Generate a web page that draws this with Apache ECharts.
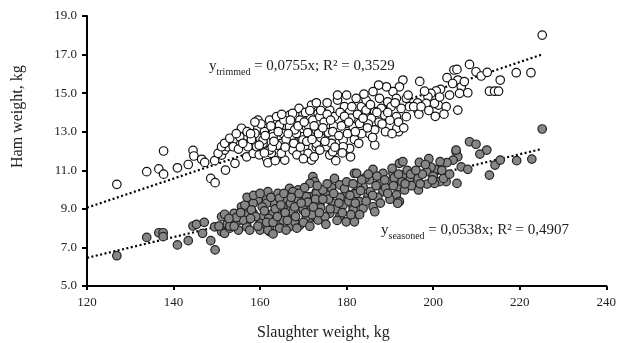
<!DOCTYPE html>
<html>
<head>
<meta charset="utf-8">
<script src="https://cdn.jsdelivr.net/npm/echarts@6/dist/echarts.min.js"></script>
<style>
  html, body { margin: 0; padding: 0; background: #fff; }
  #chart { width: 619px; height: 343px; }
</style>
</head>
<body>
<div id="chart"></div>
<script>
// axis ticks
const xTicks = [120, 140, 160, 180, 200, 220, 240];
const yTicks = [5, 7, 9, 11, 13, 15, 17, 19];

// [slaughter weight kg, ham weight kg]
const trimmedPoints = [
  [126.9, 10.27], [133.8, 10.93], [136.6, 11.07], [137.7, 10.8], [137.7, 12.0],
  [140.9, 11.13], [143.4, 11.3], [144.5, 12.03], [144.7, 11.74], [146.5, 11.57],
  [147.2, 11.41], [148.6, 10.58], [149.6, 10.36], [149.5, 11.5], [152.0, 11.01],
  [151.1, 11.79], [151.8, 12.05], [152.5, 12.22], [153.8, 12.57], [154.2, 11.36],
  [156.1, 12.66], [156.9, 11.7], [158.4, 11.88], [158.8, 12.31], [160.0, 12.66],
  [159.5, 13.18], [160.7, 12.14], [161.5, 11.62], [161.8, 11.39], [162.6, 11.88],
  [162.2, 13.09], [163.8, 13.43], [150.3, 11.88], [151.1, 12.22], [151.8, 12.4],
  [153.0, 12.66], [153.8, 12.22], [155.3, 12.74], [155.7, 13.18], [157.2, 12.22],
  [158.8, 12.91], [159.5, 13.6], [160.7, 12.4], [161.5, 13.18], [162.2, 13.6],
  [163.0, 12.91], [163.8, 13.78], [164.9, 12.4], [165.7, 11.53], [166.1, 13.26],
  [166.8, 13.86], [167.2, 12.74], [168.0, 12.05], [168.4, 13.43], [169.0, 14.21],
  [169.5, 12.74], [169.9, 13.86], [170.3, 12.22], [170.7, 13.26], [171.9, 11.53],
  [172.2, 14.3], [172.6, 12.91], [173.0, 12.22], [171.9, 14.38], [173.4, 13.95],
  [176.1, 14.12], [177.9, 14.64], [179.5, 14.3], [180.7, 14.04], [182.2, 14.73],
  [183.4, 14.3], [184.5, 13.78], [178.0, 13.6], [179.9, 13.43], [181.5, 13.26],
  [183.0, 13.43], [175.3, 13.26], [173.0, 13.09], [171.1, 13.35], [176.8, 12.74],
  [179.2, 12.57], [180.7, 12.14], [175.3, 12.22], [173.0, 12.4], [169.9, 12.57],
  [168.4, 12.91], [166.8, 13.26], [165.3, 12.91], [163.0, 12.74], [160.7, 12.57],
  [159.2, 12.22], [162.2, 12.05], [164.9, 11.88], [167.6, 12.05], [171.1, 11.88],
  [173.8, 12.05], [178.4, 12.05], [176.1, 11.79], [172.2, 13.6], [169.2, 13.6],
  [164.5, 13.35], [173.8, 13.78], [177.2, 13.78], [225.2, 18.01], [208.4, 16.49],
  [209.9, 16.11], [211.1, 15.89], [212.5, 16.08], [219.2, 16.06], [222.6, 16.06],
  [215.5, 15.68], [213.0, 15.1], [214.2, 15.1], [215.1, 15.1], [204.8, 16.2],
  [205.5, 16.23], [203.2, 15.8], [205.7, 15.68], [206.5, 15.33], [206.1, 14.99],
  [208.0, 15.02], [205.7, 14.12], [201.7, 15.2], [200.7, 15.12], [199.5, 14.99],
  [198.8, 14.81], [196.9, 15.61], [201.2, 14.38], [203.0, 14.3], [202.5, 13.91],
  [200.3, 14.47], [198.4, 14.47], [196.5, 14.09], [196.7, 13.91], [193.0, 15.68],
  [192.2, 15.33], [190.7, 15.08], [189.2, 15.33], [187.4, 15.42], [186.1, 15.08],
  [184.5, 14.64], [187.6, 14.73], [189.5, 14.55], [191.5, 14.73], [193.8, 14.73],
  [194.5, 14.3], [192.6, 14.21], [190.3, 14.3], [188.0, 14.21], [186.5, 14.04],
  [184.5, 14.12], [188.8, 13.86], [191.5, 13.78], [193.8, 13.78], [185.7, 13.69],
  [196.4, 14.5], [180.9, 11.7], [186.5, 12.31], [192.0, 13.0], [191.6, 13.18],
  [185.3, 12.91], [179.2, 12.22], [176.8, 11.96], [165.5, 13.6], [167.5, 13.95],
  [168.0, 13.1], [170.5, 14.0], [171.0, 12.95], [174.0, 14.1], [174.8, 13.5],
  [175.8, 12.95], [177.0, 13.3], [178.5, 14.0], [180.0, 14.9], [181.0, 13.7],
  [182.5, 13.9], [183.5, 12.9], [184.0, 14.95], [185.0, 13.4], [186.5, 13.1],
  [187.5, 13.5], [189.0, 13.0], [190.0, 13.6], [164.0, 12.3], [166.0, 12.6],
  [168.5, 11.8], [170.0, 11.6], [172.5, 11.7], [174.0, 12.7], [176.5, 12.4],
  [177.5, 11.5], [179.0, 11.9], [181.8, 12.6], [161.0, 13.0], [162.8, 12.2],
  [158.0, 12.6], [157.0, 13.0], [155.0, 12.1], [159.8, 11.8], [163.5, 11.5],
  [175.5, 14.5], [177.9, 14.9], [173.0, 14.5], [160.2, 13.4], [161.2, 12.8],
  [162.5, 13.3], [163.2, 12.5], [164.2, 13.0], [165.0, 13.9], [165.8, 12.2],
  [166.5, 12.9], [167.0, 13.6], [167.8, 12.4], [168.8, 13.3], [169.3, 12.2],
  [170.2, 13.5], [170.8, 12.5], [171.5, 14.1], [172.0, 12.6], [172.5, 13.3],
  [173.5, 12.9], [174.5, 13.2], [175.0, 12.5], [175.5, 13.9], [176.3, 13.6],
  [176.8, 13.0], [177.3, 12.2], [178.2, 12.8], [178.8, 13.3], [179.5, 13.8],
  [180.2, 12.9], [180.5, 13.5], [181.2, 14.3], [182.0, 13.0], [182.8, 12.4],
  [183.8, 13.7], [184.8, 13.2], [185.5, 14.4], [186.0, 12.7], [187.0, 14.0],
  [188.2, 13.4], [189.5, 14.0], [190.5, 12.9], [191.2, 14.5], [192.0, 13.5],
  [193.2, 13.2], [194.2, 14.9], [195.5, 14.3], [197.2, 14.3], [198.0, 15.1],
  [199.0, 14.1], [200.5, 13.8], [201.5, 14.8], [203.8, 14.9], [204.5, 15.5],
  [207.2, 15.6], [156.0, 12.4], [154.5, 12.9], [157.8, 12.9], [158.8, 13.5],
  [159.8, 12.3], [161.0, 11.9]
];

const seasonedPoints = [
  [126.9, 6.57], [133.8, 7.52], [136.6, 7.76], [137.6, 7.76], [137.6, 7.56],
  [140.9, 7.13], [143.4, 7.35], [144.5, 8.11], [145.3, 8.2], [147.1, 8.3],
  [146.7, 7.73], [148.6, 7.35], [149.6, 6.87], [149.5, 8.07], [151.1, 7.82],
  [151.8, 7.73], [151.1, 8.59], [151.8, 8.72], [153.0, 8.0], [153.8, 8.33],
  [154.0, 8.77], [155.7, 9.11], [156.1, 8.59], [156.9, 8.25], [156.9, 8.8],
  [152.4, 8.21], [156.9, 9.11], [159.5, 9.46], [161.8, 9.89], [164.1, 9.8],
  [166.8, 10.06], [168.8, 9.98], [172.2, 10.67], [172.6, 10.41], [158.4, 8.77],
  [160.7, 8.59], [163.0, 8.77], [165.3, 8.59], [167.6, 8.77], [169.9, 8.94],
  [171.5, 9.11], [156.9, 8.07], [160.0, 7.9], [162.2, 7.82], [164.5, 8.25],
  [166.8, 8.07], [169.2, 8.16], [171.1, 8.42], [173.0, 8.51], [155.3, 8.42],
  [153.4, 8.33], [163.0, 9.29], [166.1, 9.46], [169.2, 9.63], [171.5, 9.63],
  [173.0, 9.89], [161.5, 9.46], [158.4, 9.29], [166.8, 9.03], [165.3, 9.11],
  [177.2, 10.58], [178.4, 10.24], [181.8, 10.84], [181.8, 9.8], [179.9, 9.8],
  [175.3, 9.72], [173.0, 9.8], [170.7, 9.63], [168.8, 9.46], [173.8, 9.2],
  [176.8, 9.29], [179.2, 9.2], [181.5, 9.11], [176.1, 8.77], [178.4, 8.59],
  [179.9, 8.33], [181.8, 8.33], [173.4, 8.42], [170.7, 8.59], [168.0, 8.33],
  [165.3, 8.42], [162.2, 8.07], [160.0, 8.25], [157.6, 7.9], [156.1, 8.42],
  [156.5, 9.2], [161.5, 9.29], [161.8, 7.9], [164.5, 8.0], [167.6, 8.86],
  [169.9, 9.03], [174.5, 9.98], [171.5, 10.32], [167.6, 9.89], [225.2, 13.14],
  [208.4, 12.48], [209.9, 12.35], [210.8, 11.84], [212.4, 12.05], [214.3, 11.27],
  [215.5, 11.53], [213.0, 10.75], [219.3, 11.5], [222.8, 11.58], [206.5, 11.18],
  [208.0, 11.05], [205.3, 11.96], [205.7, 11.7], [204.6, 11.53], [203.2, 11.4],
  [201.6, 11.45], [200.5, 11.05], [199.5, 11.16], [198.5, 10.93], [196.8, 11.41],
  [203.0, 10.41], [201.5, 10.41], [202.4, 10.58], [205.5, 10.32], [200.3, 10.32],
  [198.6, 10.29], [196.6, 9.98], [196.5, 10.58], [194.5, 10.5], [193.0, 10.75],
  [192.2, 11.36], [193.0, 11.45], [190.7, 10.84], [188.4, 10.84], [186.1, 11.05],
  [182.3, 10.84], [189.9, 10.41], [191.8, 10.15], [193.4, 9.98], [187.6, 10.32],
  [185.3, 10.5], [183.8, 10.15], [188.4, 9.89], [191.5, 9.72], [192.2, 9.38],
  [191.8, 9.29], [182.3, 9.8], [184.9, 9.63], [183.0, 9.38], [186.1, 9.11],
  [186.5, 8.85], [181.5, 8.94], [183.8, 9.03], [205.3, 12.05], [158.0, 8.95],
  [159.0, 8.6], [160.5, 9.1], [162.0, 8.5], [163.5, 9.0], [164.5, 9.55],
  [165.8, 8.8], [167.0, 9.3], [168.2, 8.6], [169.0, 9.8], [170.0, 8.3],
  [171.0, 9.35], [172.0, 8.7], [172.8, 9.5], [174.0, 9.05], [175.0, 8.6],
  [175.8, 9.5], [176.5, 10.1], [177.5, 9.0], [178.5, 9.6], [179.5, 10.05],
  [180.5, 9.4], [181.0, 8.7], [182.5, 10.2], [183.2, 9.95], [184.2, 10.6],
  [185.5, 9.9], [186.8, 10.2], [187.2, 9.6], [189.0, 10.1], [190.0, 9.5],
  [190.5, 11.1], [191.0, 10.6], [192.8, 10.4], [194.0, 11.0], [195.0, 10.2],
  [197.5, 10.8], [199.0, 11.6], [200.0, 10.7], [157.0, 9.6], [154.5, 8.55],
  [153.0, 8.1], [155.0, 7.9], [163.0, 7.7], [166.0, 7.9], [158.5, 9.7],
  [159.5, 8.1], [160.0, 9.8], [161.0, 8.9], [161.5, 8.3], [162.5, 9.6],
  [163.0, 8.3], [164.0, 8.6], [164.8, 9.2], [165.5, 9.8], [166.3, 8.4],
  [167.2, 9.6], [168.0, 9.1], [168.5, 8.0], [169.5, 9.3], [170.3, 10.1],
  [170.5, 8.8], [171.5, 8.1], [172.3, 9.1], [173.2, 10.2], [173.7, 8.8],
  [174.5, 9.5], [175.2, 8.2], [175.5, 10.3], [176.2, 9.0], [177.0, 9.8],
  [177.8, 8.4], [178.2, 9.3], [179.0, 8.8], [180.0, 10.4], [180.8, 9.7],
  [181.5, 10.3], [182.0, 9.3], [183.0, 8.7], [183.5, 10.5], [184.5, 9.4],
  [185.0, 10.8], [186.0, 9.7], [187.0, 10.7], [187.8, 9.3], [188.8, 10.5],
  [189.5, 9.8], [190.8, 10.2], [192.0, 10.8], [193.5, 10.3], [194.8, 10.8],
  [196.0, 11.0], [197.0, 10.3], [198.2, 11.3], [199.8, 10.5], [202.0, 11.0],
  [203.8, 10.8], [155.5, 8.8], [154.0, 8.1], [152.8, 8.5], [157.8, 8.5],
  [150.5, 8.1]
];

// trend line ends (y = 0.0755x and y = 0.0538x) read at x = 120 and 225
const trimmedTrend = [[120, 9.06], [225, 16.99]];
const seasonedTrend = [[120, 6.46], [225, 12.1]];

const serif = 'Liberation Serif';
const chart = echarts.init(document.getElementById('chart'));

const eqStyle = {
  a: { fontFamily: serif, fontSize: 15, fill: '#222', verticalAlign: 'bottom', lineHeight: 18 },
  s: { fontFamily: serif, fontSize: 10, fill: '#222', verticalAlign: 'bottom', lineHeight: 18, padding: [0, 0, -3, 0] },
};

const option = {
  animation: false,
  grid: { left: 87, right: 12, top: 16, bottom: 57, containLabel: false },
  xAxis: {
    type: 'value',
    min: xTicks[0],
    max: xTicks[xTicks.length - 1],
    interval: 20,
    splitLine: { show: false },
    axisLine: { show: true, lineStyle: { color: '#000', width: 2 } },
    axisTick: { show: true, inside: false, length: 4, lineStyle: { color: '#000', width: 2 } },
    axisLabel: { margin: 10, color: '#222', fontFamily: serif, fontSize: 13 },
  },
  yAxis: {
    type: 'value',
    min: yTicks[0],
    max: yTicks[yTicks.length - 1],
    interval: 2,
    splitLine: { show: false },
    axisLine: { show: true, lineStyle: { color: '#000', width: 2 } },
    axisTick: { show: true, inside: false, length: 5, lineStyle: { color: '#000', width: 2 } },
    axisLabel: {
      margin: 10,
      color: '#222',
      fontFamily: serif,
      fontSize: 13,
      formatter: (v) => v.toFixed(1),
    },
  },
  graphic: [
    {
      type: 'text',
      x: 10,
      y: 168,
      rotation: Math.PI / 2,
      style: { text: 'Ham weight, kg', font: '16px "Liberation Serif"', fill: '#222' },
    },
    {
      type: 'text',
      x: 257,
      y: 325,
      style: { text: 'Slaughter weight, kg', font: '16px "Liberation Serif"', fill: '#222' },
    },
    {
      type: 'text',
      x: 209,
      y: 56,
      style: { text: '{a|y}{s|trimmed}{a| = 0,0755x; R² = 0,3529}', rich: eqStyle },
    },
    {
      type: 'text',
      x: 381,
      y: 220,
      style: { text: '{a|y}{s|seasoned}{a| = 0,0538x; R² = 0,4907}', rich: eqStyle },
    },
  ],
  series: [
    {
      name: 'trimmed trend',
      type: 'line',
      data: trimmedTrend,
      symbol: 'none',
      silent: true,
      z: 1,
      lineStyle: { color: '#000', width: 2.2, type: [2, 2.5] },
    },
    {
      name: 'seasoned trend',
      type: 'line',
      data: seasonedTrend,
      symbol: 'none',
      silent: true,
      z: 1,
      lineStyle: { color: '#000', width: 2.2, type: [2, 2.5] },
    },
    {
      name: 'trimmed',
      type: 'scatter',
      data: trimmedPoints,
      symbolSize: 8.5,
      z: 2,
      itemStyle: { color: '#fff', borderColor: '#111', borderWidth: 1.2, opacity: 1 },
    },
    {
      name: 'seasoned',
      type: 'scatter',
      data: seasonedPoints,
      symbolSize: 8.5,
      z: 2,
      itemStyle: { color: '#868686', borderColor: '#222', borderWidth: 1.2, opacity: 1 },
    },
  ],
};

chart.setOption(option);
</script>
</body>
</html>
